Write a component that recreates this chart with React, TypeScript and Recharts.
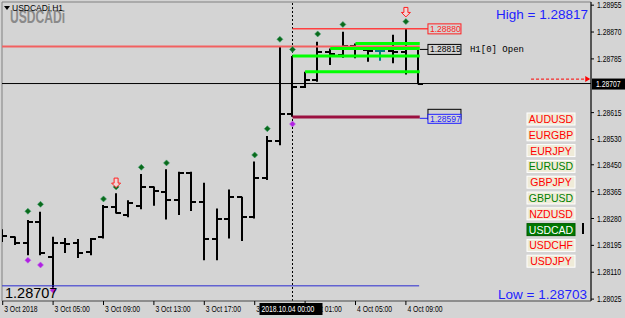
import { ComposedChart, Bar, Scatter, XAxis, YAxis, ReferenceLine, ReferenceArea } from 'recharts';

// H1 bars, 3 Oct 01:00 .. 4 Oct 10:00
const opens = [1.28222, 1.28221, 1.28203, 1.2827, 1.28159, 1.28203, 1.28203, 1.28175, 1.2822, 1.28317, 1.28291, 1.28321, 1.28379, 1.28365, 1.28338, 1.28423, 1.28333, 1.28214, 1.28277, 1.28347, 1.28285, 1.28407, 1.28526, 1.2861, 1.28695, 1.28718, 1.28806, 1.28798, 1.28826, 1.28813, 1.2881, 1.2881, 1.28806, 1.28815];
const highs = [1.28246, 1.28223, 1.28275, 1.28301, 1.28222, 1.28218, 1.28215, 1.28218, 1.28323, 1.2836, 1.28338, 1.28421, 1.28381, 1.28436, 1.28428, 1.28428, 1.28393, 1.28312, 1.28372, 1.28349, 1.2846, 1.28541, 1.28824, 1.28794, 1.28744, 1.28839, 1.28818, 1.28871, 1.28834, 1.28822, 1.28826, 1.28861, 1.28882, 1.28818];
const lows = [1.28206, 1.28196, 1.28164, 1.28164, 1.28059, 1.28171, 1.28155, 1.28164, 1.28217, 1.28296, 1.28284, 1.28309, 1.2832, 1.28277, 1.28291, 1.28304, 1.28148, 1.28148, 1.28217, 1.28209, 1.2828, 1.28402, 1.28512, 1.28602, 1.28693, 1.28713, 1.28766, 1.28789, 1.28787, 1.28776, 1.28779, 1.28771, 1.28736, 1.28705];
const closes = [1.28225, 1.28202, 1.2827, 1.28171, 1.28203, 1.282, 1.2817, 1.28215, 1.28317, 1.28299, 1.28328, 1.28379, 1.28367, 1.28338, 1.28423, 1.28333, 1.28214, 1.28277, 1.28347, 1.28285, 1.28407, 1.28526, 1.2861, 1.28695, 1.28718, 1.28808, 1.288, 1.28826, 1.28815, 1.2881, 1.2881, 1.28806, 1.28815, 1.28707];

const upFractalBars = [2, 3, 8, 9, 11, 13, 20, 21, 22, 23, 25, 27, 32];
const upFractalPrices = [1.28303, 1.28325, 1.28342, 1.2838, 1.28442, 1.28456, 1.28481, 1.28564, 1.28847, 1.28815, 1.28864, 1.28894, 1.28903];
const downFractalBars = [2, 3, 4, 23];
const downFractalPrices = [1.28148, 1.28133, 1.28053, 1.28579];
const signalBars = [9, 32];
const signalPrices = [1.28392, 1.28932];

const greenLevelStarts = [28, 26, 23, 24];
const greenLevels = [1.28834, 1.28818, 1.28794, 1.28744];

const xTickBars = [0, 4, 8, 12, 16, 20, 24, 28, 32, 23];
const xTickLabels = ['3 Oct 2018', '3 Oct 05:00', '3 Oct 09:00', '3 Oct 13:00', '3 Oct 17:00', '3 Oct 21:00', '4 Oct 01:00', '4 Oct 05:00', '4 Oct 09:00', '2018.10.04 00:00'];
const yTicks = [1.28955, 1.2887, 1.28785, 1.28707, 1.28615, 1.2853, 1.2845, 1.28365, 1.2828, 1.28195, 1.2811, 1.28025];

const pairs = ['AUDUSD', 'EURGBP', 'EURJPY', 'EURUSD', 'GBPJPY', 'GBPUSD', 'NZDUSD', 'USDCAD', 'USDCHF', 'USDJPY'];
const pairUp = [false, false, false, true, false, true, false, true, false, false];

const X_DOMAIN: [number, number] = [-0.056, 46.69];
const Y_DOMAIN: [number, number] = [1.28019, 1.28965];
const BG = '#d4d4d4';
const SANS = '"Liberation Sans", Arial, sans-serif';

const bars = opens.map((o, i) => ({
  i,
  open: o,
  high: highs[i],
  low: lows[i],
  close: closes[i],
  range: [lows[i], highs[i]],
}));
const upMarks = upFractalBars.map((i, k) => ({ i, v: upFractalPrices[k] }));
const downMarks = downFractalBars.map((i, k) => ({ i, v: downFractalPrices[k] }));
const signals = signalBars.map((i, k) => ({ i, v: signalPrices[k] }));

// condensed axis text (MT4 uses a narrow bitmap font)
const NarrowText = ({ x, y, fill, children }: any) => (
  <text transform={`translate(${x},${y}) scale(0.8,1)`} fontSize={8.5} fontFamily={SANS} fill={fill}>
    {children}
  </text>
);

const OhlcShape = (props: any) => {
  const { x, y, width, height, payload } = props;
  if (height == null || !payload) return null;
  const cx = Math.round(x + width / 2);
  const k = height / (payload.high - payload.low);
  const oy = Math.round(y + (payload.high - payload.open) * k);
  const cy = Math.round(y + (payload.high - payload.close) * k);
  const color = payload.open === payload.close ? '#008080' : '#000';
  return (
    <g stroke={color} strokeWidth={2}>
      <line x1={cx} x2={cx} y1={y} y2={y + height} />
      <line x1={cx - 5} x2={cx} y1={oy} y2={oy} />
      <line x1={cx} x2={cx + 5} y1={cy} y2={cy} />
    </g>
  );
};

const diamond = (fill: string, stroke: string) => (p: any) => (
  <polygon
    points={`${p.cx},${p.cy - 3} ${p.cx + 3},${p.cy} ${p.cx},${p.cy + 3} ${p.cx - 3},${p.cy}`}
    fill={fill}
    stroke={stroke}
    strokeWidth={0.6}
  />
);

const DownArrow = (p: any) => {
  const { cx, cy } = p;
  return (
    <polygon
      points={`${cx - 2},${cy - 5} ${cx + 2},${cy - 5} ${cx + 2},${cy} ${cx + 4.5},${cy} ${cx},${cy + 4.5} ${cx - 4.5},${cy} ${cx - 2},${cy}`}
      fill="#f2d6d6"
      stroke="#ff2020"
      strokeWidth={1}
    />
  );
};

const XTick = (props: any) => {
  const { x, y, payload } = props;
  const idx = xTickBars.indexOf(payload.value);
  const label = xTickLabels[idx];
  if (payload.value === 23) {
    return (
      <g>
        <rect x={x - 33} y={y + 2} width={63} height={12} fill="#000" />
        <NarrowText x={x - 31} y={y + 11} fill="#fff">{label}</NarrowText>
      </g>
    );
  }
  return (
    <g>
      <line x1={x} x2={x} y1={y} y2={y + 4} stroke="#000" />
      <NarrowText x={x + 1.5} y={y + 11} fill="#000">{label}</NarrowText>
    </g>
  );
};

const YTick = (props: any) => {
  const { x, y, payload } = props;
  const txt = payload.value.toFixed(5);
  if (payload.value === 1.28707) {
    return (
      <g>
        <rect x={x + 1} y={y - 5} width={34} height={11} fill="#000" />
        <NarrowText x={x + 5} y={y + 3.5} fill="#fff">{txt}</NarrowText>
      </g>
    );
  }
  return (
    <g>
      <line x1={x} x2={x + 3} y1={y} y2={y} stroke="#000" />
      <NarrowText x={x + 6} y={y + 3} fill="#000">{txt}</NarrowText>
    </g>
  );
};

const priceTag = (text: string, color: string, note?: string) => (p: any) => {
  const vb = p.viewBox || {};
  const x0 = vb.x + vb.width;
  const y0 = vb.y;
  return (
    <g>
      <rect x={x0} y={y0 - 5} width={33} height={10} fill="none" stroke={color} />
      <text x={x0 + 2} y={y0 + 3} fontSize={8.5} fontFamily={SANS} fill={color}>{text}</text>
      {note && (
        <text x={x0 + 42} y={y0 + 3} fontSize={9} fontFamily='"Liberation Mono", monospace' fill="#000">{note}</text>
      )}
    </g>
  );
};

const lowTag = (p: any) => {
  const vb = p.viewBox || {};
  const x0 = vb.x + vb.width;
  const y0 = vb.y;
  return (
    <g>
      <rect x={x0} y={y0 - 9} width={33} height={10} fill="none" stroke="#000" />
      <rect x={x0} y={y0 - 4} width={33} height={9} fill={BG} stroke="#2020ff" />
      <text x={x0 + 2} y={y0 + 3.5} fontSize={8.5} fontFamily={SANS} fill="#2020ff">1.28597</text>
    </g>
  );
};

const arrowHead = (p: any) => {
  const vb = p.viewBox || {};
  const x1 = vb.x + vb.width;
  const y0 = vb.y;
  return <polygon points={`${x1 - 4},${y0 - 3} ${x1 + 1},${y0} ${x1 - 4},${y0 + 3}`} fill="#ff0000" />;
};

const App = () => {
  return (
    <div style={{ position: 'relative', width: 625, height: 318, background: BG }}>
      <style>{'body{margin:0}'}</style>
      <ComposedChart width={625} height={318} data={bars} margin={{ top: 2, right: 0, bottom: 0, left: 2 }}>
        <XAxis
          dataKey="i"
          type="number"
          domain={X_DOMAIN}
          allowDataOverflow
          ticks={xTickBars}
          interval={0}
          tick={<XTick />}
          tickLine={false}
          tickSize={0}
          tickMargin={0}
          height={17}
          axisLine={{ stroke: '#707070' }}
        />
        <YAxis
          orientation="right"
          type="number"
          domain={Y_DOMAIN}
          allowDataOverflow
          ticks={yTicks}
          interval={0}
          tick={<YTick />}
          tickLine={false}
          tickSize={0}
          tickMargin={0}
          width={34}
          axisLine={{ stroke: '#000' }}
        />
        <ReferenceArea x1={X_DOMAIN[0]} x2={X_DOMAIN[1]} y1={Y_DOMAIN[0]} y2={Y_DOMAIN[1]} fill="none" stroke="#808080" />
        <ReferenceLine x={23} stroke="#000" strokeDasharray="2 2" />
        <ReferenceLine y={1.28707} stroke="#000" />
        <ReferenceLine segment={[{ x: -0.05, y: 1.28824 }, { x: 33.1, y: 1.28824 }]} stroke="#f26060" strokeWidth={2} />
        <ReferenceLine segment={[{ x: 33.1, y: 1.28815 }, { x: 33.75, y: 1.28815 }]} stroke="#000" label={priceTag('1.28815', '#000', 'H1[0] Open')} />
        <ReferenceLine segment={[{ x: 23, y: 1.2888 }, { x: 33.75, y: 1.2888 }]} stroke="#ff4040" strokeWidth={1.5} label={priceTag('1.28880', '#ff2020')} />
        {greenLevels.map((lv, k) => (
          <ReferenceLine key={k} segment={[{ x: greenLevelStarts[k], y: lv }, { x: 33.1, y: lv }]} stroke="#00ff00" strokeWidth={3} />
        ))}
        <ReferenceLine segment={[{ x: 23, y: 1.28601 }, { x: 33.1, y: 1.28601 }]} stroke="#9b1040" strokeWidth={3} />
        <ReferenceLine segment={[{ x: 33.1, y: 1.28597 }, { x: 33.75, y: 1.28597 }]} stroke="#2020ff" label={lowTag} />
        <ReferenceLine segment={[{ x: -0.05, y: 1.28067 }, { x: 33.05, y: 1.28067 }]} stroke="#2a2ad0" />
        <ReferenceLine segment={[{ x: 41.93, y: 1.28721 }, { x: 46.55, y: 1.28721 }]} stroke="#ff0000" strokeDasharray="3 2" label={arrowHead} />
        <Bar dataKey="range" barSize={10} shape={<OhlcShape />} isAnimationActive={false} />
        <Scatter data={upMarks} dataKey="v" shape={diamond('#0a6a1a', '#40a070')} isAnimationActive={false} />
        <Scatter data={downMarks} dataKey="v" shape={diamond('#b020e0', '#c060f0')} isAnimationActive={false} />
        <Scatter data={signals} dataKey="v" shape={<DownArrow />} isAnimationActive={false} />
      </ComposedChart>
      <svg width={625} height={318} style={{ position: 'absolute', left: 0, top: 0, pointerEvents: 'none' }}>
        <text x={10} y={23} fontSize={19} fontWeight="bold" fontFamily={SANS} fill="#8a8a8a" textLength={55} lengthAdjust="spacingAndGlyphs">USDCADi</text>
        <polygon points="4,6 10,6 7,10" fill="#000" />
        <text x={12} y={11} fontSize={8.5} fontFamily={SANS} fill="#000">USDCADi,H1</text>
        <text x={588} y={19} textAnchor="end" fontSize={13.5} fontFamily={SANS} fill="#1e1eff">High = 1.28817</text>
        <text x={587} y={299} textAnchor="end" fontSize={13.5} fontFamily={SANS} fill="#1e1eff">Low = 1.28703</text>
        <text x={5} y={298} fontSize={14.5} fontFamily={SANS} fill="#000">1.28707</text>
        {pairs.map((p, k) => {
          const top = 113 + k * 15.8;
          const active = p === 'USDCAD';
          return (
            <g key={p}>
              <rect x={527} y={top} width={48} height={12} fill={active ? '#007800' : '#efebd8'} stroke={active ? '#005a00' : '#ffffff'} strokeWidth={1} />
              <text x={551} y={top + 10} textAnchor="middle" fontSize={10.5} fontFamily={SANS} fill={active ? '#ffffff' : pairUp[k] ? '#008000' : '#ff0000'}>{p}</text>
            </g>
          );
        })}
        <rect x={582} y={223} width={2} height={11} fill="#000" />
      </svg>
    </div>
  );
};

export default App;
